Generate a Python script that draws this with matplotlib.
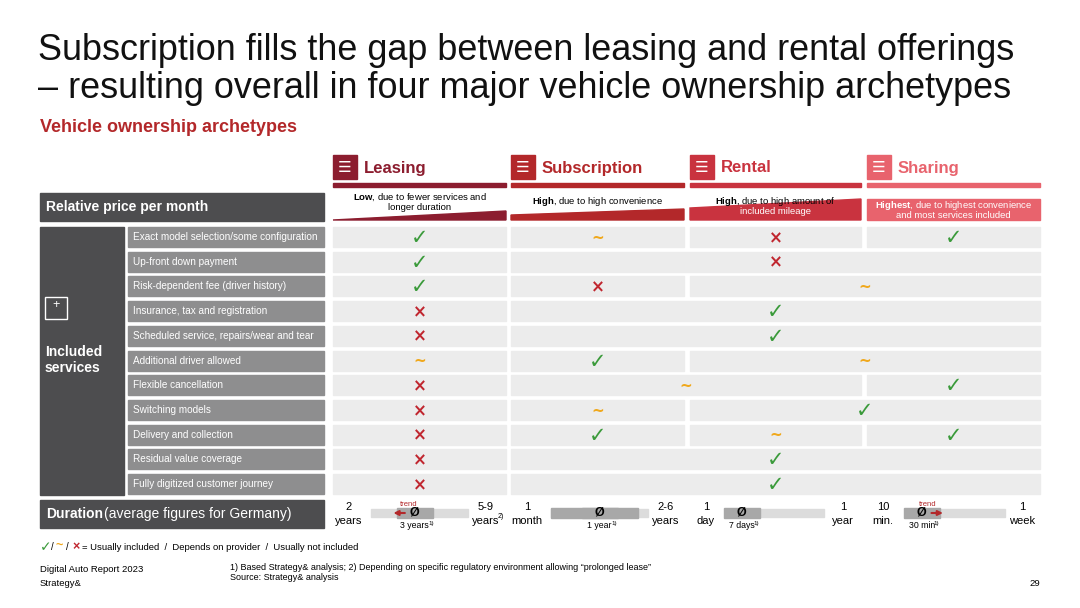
import matplotlib.pyplot as plt
from matplotlib.patches import Rectangle, Polygon

plt.rcParams["font.family"] = "Liberation Sans"
plt.rcParams["mathtext.fontset"] = "custom"
plt.rcParams["mathtext.rm"] = "Liberation Sans"
plt.rcParams["mathtext.bf"] = "Liberation Sans:bold"

archetypes = ["Leasing", "Subscription", "Rental", "Sharing"]
col_colors = ["#8c1d2f", "#b3282a", "#c9333f", "#e8636d"]
col_x = [(333, 506), (511, 684), (690, 861), (867, 1040)]

price_bold = ["Low", "High", "High", "Highest"]
price_rest = [", due to fewer services and\nlonger duration", ", due to high convenience",
              ", due to high amount of\nincluded mileage", ", due to highest convenience\nand most services included"]

services = [
    "Exact model selection/some configuration",
    "Up-front down payment",
    "Risk-dependent fee (driver history)",
    "Insurance, tax and registration",
    "Scheduled service, repairs/wear and tear",
    "Additional driver allowed",
    "Flexible cancellation",
    "Switching models",
    "Delivery and collection",
    "Residual value coverage",
    "Fully digitized customer journey",
]
# per row: (first column, last column, mark)  y=included, ~=depends, x=not included
cells = [
    [(0, 0, "y"), (1, 1, "~"), (2, 2, "x"), (3, 3, "y")],
    [(0, 0, "y"), (1, 3, "x")],
    [(0, 0, "y"), (1, 1, "x"), (2, 3, "~")],
    [(0, 0, "x"), (1, 3, "y")],
    [(0, 0, "x"), (1, 3, "y")],
    [(0, 0, "~"), (1, 1, "y"), (2, 3, "~")],
    [(0, 0, "x"), (1, 2, "~"), (3, 3, "y")],
    [(0, 0, "x"), (1, 1, "~"), (2, 3, "y")],
    [(0, 0, "x"), (1, 1, "y"), (2, 2, "~"), (3, 3, "y")],
    [(0, 0, "x"), (1, 3, "y")],
    [(0, 0, "x"), (1, 3, "y")],
]
dur_left = ["2\nyears", "1\nmonth", "1\nday", "10\nmin."]
dur_right = ["5-9\nyears", "2-6\nyears", "1\nyear", "1\nweek"]
dur_avg = ["3 years", "1 year", "7 days", "30 min"]
avg_pos = [0.45, 0.5, 0.15, 0.15]  # position of average on the track (0..1)
trend = ["left", None, None, "right"]

mark_style = {"y": ("\u2713", "#3a9a3a", 15), "~": ("~", "#f0a81c", 11), "x": ("\u00d7", "#c0262f", 12)}
DARK = "#4d4d4f"
MID = "#8e8e8f"
CELL = "#ececec"
RED = "#b3282a"

fig = plt.figure(figsize=(10.8, 6.08), dpi=100)
ax = fig.add_axes([0, 0, 1, 1])
ax.set_xlim(0, 1080)
ax.set_ylim(608, 0)
ax.axis("off")

ax.text(38, 50, "Subscription fills the gap between leasing and rental offerings", fontsize=25.9, va="center", color="#111")
ax.text(38, 88, "\u2013 resulting overall in four major vehicle ownership archetypes", fontsize=25.9, va="center", color="#111")
ax.text(40, 127, "Vehicle ownership archetypes", fontsize=13, fontweight="bold", color=RED, va="center")

# column headers
for i, (x0, x1) in enumerate(col_x):
    c = col_colors[i]
    ax.add_patch(Rectangle((x0, 155), 24, 24, color=c))
    ax.text(x0 + 12, 167, "\u2630", color="white", fontsize=11, ha="center", va="center", family="DejaVu Sans")
    ax.text(x0 + 31, 168, archetypes[i], fontsize=12, fontweight="bold", color=c, va="center")
    ax.add_patch(Rectangle((x0, 183), x1 - x0, 4, color=c))

# price wedges (left top, right top)
wedges = [(220, 211), (215, 209), (208, 199), (199, 199)]
text_y = [(197, 208), (202, None), (201, 212), (206, 215)]
for i, (x0, x1) in enumerate(col_x):
    lt, rt = wedges[i]
    ax.add_patch(Polygon([(x0, 220), (x0, lt), (x1, rt), (x1, 220)], color=col_colors[i]))
    lines = price_rest[i].split("\n")
    y1, y2 = text_y[i]
    ax.text((x0 + x1) / 2, y1, r"$\bf{" + price_bold[i] + "}$" + lines[0], fontsize=6.8,
            ha="center", va="center", color="black" if i < 3 else "white")
    if len(lines) > 1:
        ax.text((x0 + x1) / 2, y2, lines[1], fontsize=6.8, ha="center", va="center",
                color="black" if i == 0 else "white")

ax.add_patch(Rectangle((40, 193), 284, 28, color=DARK))
ax.text(46, 207, "Relative price per month", fontsize=10, fontweight="bold", color="white", va="center")

# included services
row_h = 24.7
y0 = 227
ax.add_patch(Rectangle((40, y0), 84, row_h * 11 - 4, color=DARK))
ax.add_patch(Rectangle((45, 297), 22, 22, fill=False, ec="white", lw=1))
ax.text(56, 305, "+", color="white", fontsize=9, ha="center", va="center")
ax.text(45, 360, "Included\nservices", fontsize=10, fontweight="bold", color="white", va="center", linespacing=1.2)
for r, name in enumerate(services):
    top = y0 + r * row_h
    cy = top + 10
    ax.add_patch(Rectangle((128, top), 196, 20, color=MID))
    ax.text(133, cy, name, fontsize=7.2, color="white", va="center")
    for c0, c1, m in cells[r]:
        xa, xb = col_x[c0][0], col_x[c1][1]
        ax.add_patch(Rectangle((xa, top), xb - xa, 20, color=CELL))
        s, col, fs = mark_style[m]
        ax.text((xa + xb) / 2, cy + 1, s, color=col, fontsize=fs, ha="center", va="center",
                fontweight="bold", family="DejaVu Sans")

# duration row
ax.add_patch(Rectangle((40, 500), 284, 28, color=DARK))
ax.text(46, 514, "Duration", fontsize=10, fontweight="bold", color="white", va="center")
ax.text(104, 514, "(average figures for Germany)", fontsize=10, color="white", va="center")
tracks = [(371, 468), (551, 648), (727, 824), (907, 1005)]
for i, (x0, x1) in enumerate(col_x):
    ax.text(x0 + 16, 514, dur_left[i], fontsize=8, ha="center", va="center", linespacing=1.4)
    rx = x1 - 20 if i == 0 else x1 - 18
    ax.text(rx, 514, dur_right[i], fontsize=8, ha="center", va="center", linespacing=1.4)
    if i == 0:
        ax.text(rx + 12, 517, "2)", fontsize=5, va="center")
    ta, tb = tracks[i]
    ax.add_patch(Rectangle((ta, 509), tb - ta, 8, color="#dcdcdc"))
    ax_ = ta + avg_pos[i] * (tb - ta)
    ax.add_patch(Rectangle((ax_ - 18, 508), 36, 10, color="#a8a8a8"))
    if i == 1:
        ax.add_patch(Rectangle((ta, 508), tb - ta - 10, 10, color="#a8a8a8"))
    ax.text(ax_, 513, "\u00d8", fontsize=9, ha="center", va="center", fontweight="bold")
    ax.text(ax_, 526, dur_avg[i], fontsize=6.3, ha="center", va="center")
    ax.text(ax_ + len(dur_avg[i]) * 1.65 + 2, 523, "1)", fontsize=4.5, va="center")
    if trend[i]:
        d = -1 if trend[i] == "left" else 1
        ax.annotate("", xy=(ax_ + d * 24, 513), xytext=(ax_ + d * 7, 513),
                    arrowprops=dict(arrowstyle="-|>", color=RED, lw=1.5, mutation_scale=7))
        ax.text(ax_ + d * 6, 504, "trend", fontsize=5.5, color=RED, ha="center", va="center")

# legend and footer
ax.text(40, 547, "\u2713", color="#3a9a3a", fontsize=10, va="center", fontweight="bold", family="DejaVu Sans")
ax.text(51, 547, "/", fontsize=7, va="center")
ax.text(56, 546, "~", color="#f0a81c", fontsize=9, va="center", fontweight="bold")
ax.text(66, 547, "/", fontsize=7, va="center")
ax.text(72, 547, "\u00d7", color="#c0262f", fontsize=9, va="center", fontweight="bold")
ax.text(82, 547, "= Usually included  /  Depends on provider  /  Usually not included", fontsize=6.8, va="center")
ax.text(40, 570, "Digital Auto Report 2023", fontsize=6.8, va="center")
ax.text(40, 583, "Strategy&", fontsize=6.8, va="center")
ax.text(230, 568, "1) Based Strategy& analysis; 2) Depending on specific regulatory environment allowing \u201cprolonged lease\u201d",
        fontsize=6.5, va="center")
ax.text(230, 578, "Source: Strategy& analysis", fontsize=6.5, va="center")
ax.text(1040, 583, "29", fontsize=6.8, va="center", ha="right")

fig.savefig("out.png", dpi=100)
